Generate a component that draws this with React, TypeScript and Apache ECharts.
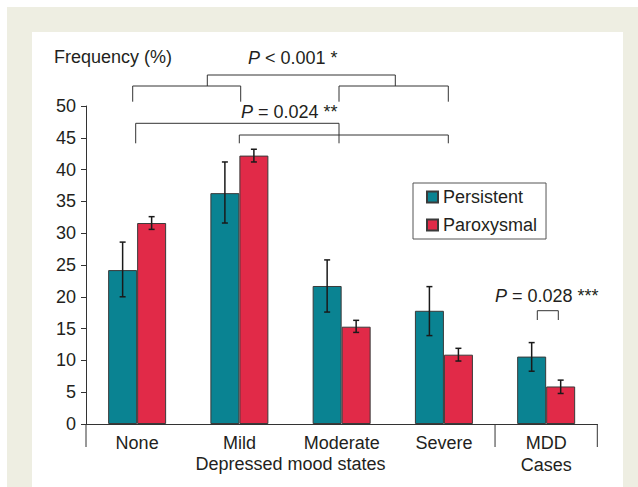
import React, { useEffect, useRef } from 'react';
import * as echarts from 'echarts';

const categories = ['None', 'Mild', 'Moderate', 'Severe', 'MDD\nCases'];
const seriesNames = ['Persistent', 'Paroxysmal'];
const persistent = [24.2, 36.3, 21.7, 17.8, 10.6];
const persistentLow = [20.0, 31.6, 17.6, 13.9, 8.3];
const persistentHigh = [28.6, 41.2, 25.8, 21.6, 12.8];
const paroxysmal = [31.6, 42.2, 15.3, 10.9, 5.9];
const paroxysmalLow = [30.6, 41.2, 14.4, 9.9, 4.8];
const paroxysmalHigh = [32.6, 43.2, 16.3, 11.9, 6.9];
const yTicks = { min: 0, max: 50, interval: 5 };

const FONT = 'Liberation Sans, Arial, Helvetica, sans-serif';
const TXT = '#231f20';
const LINE = '#333333';
const TEAL = '#0a8392';
const RED = '#e12a48';

function errorSeries(low: number[], high: number[], offset: number) {
  return {
    type: 'custom',
    silent: true,
    z: 10,
    encode: { x: 0, y: [1, 2] },
    data: categories.map((_, i) => [i, low[i], high[i]]),
    renderItem: (params: any, api: any) => {
      const i = api.value(0);
      const lo = api.coord([i, api.value(1)]);
      const hi = api.coord([i, api.value(2)]);
      const x = lo[0] + offset;
      const st = { stroke: '#1a1a1a', lineWidth: 1.5 };
      return {
        type: 'group',
        children: [
          { type: 'line', shape: { x1: x, y1: lo[1], x2: x, y2: hi[1] }, style: st },
          { type: 'line', shape: { x1: x - 3, y1: hi[1], x2: x + 3, y2: hi[1] }, style: st },
          { type: 'line', shape: { x1: x - 3, y1: lo[1], x2: x + 3, y2: lo[1] }, style: st },
        ],
      };
    },
  };
}

export default function App() {
  const ref = useRef<HTMLDivElement>(null);
  useEffect(() => {
    const chart = echarts.init(ref.current!, null, { renderer: 'svg' });
    const option: any = {
      animation: false,
      textStyle: { fontFamily: FONT },
      grid: { left: 86, right: 40.7, top: 106, bottom: 63, containLabel: false },
      legend: {
        data: seriesNames,
        orient: 'vertical',
        left: 413,
        top: 183,
        itemWidth: 11,
        itemHeight: 11,
        itemGap: 10,
        padding: [5, 9, 5, 13],
        borderColor: '#555',
        borderWidth: 1,
        icon: 'rect',
        textStyle: { fontSize: 18, color: TXT, fontFamily: FONT },
      },
      xAxis: {
        type: 'category',
        data: categories,
        axisLine: { lineStyle: { color: LINE, width: 1 } },
        axisTick: { length: 5, lineStyle: { color: LINE } },
        axisLabel: { interval: 0, fontSize: 18, color: TXT, margin: 8, lineHeight: 22, fontFamily: FONT },
      },
      yAxis: {
        type: 'value',
        min: yTicks.min,
        max: yTicks.max,
        interval: yTicks.interval,
        splitLine: { show: false },
        axisLine: { show: true, lineStyle: { color: LINE, width: 1 } },
        axisTick: { show: true, length: 5, lineStyle: { color: LINE } },
        axisLabel: { fontSize: 18, color: TXT, margin: 10, fontFamily: FONT },
      },
      series: [
        {
          name: seriesNames[0],
          type: 'bar',
          data: persistent,
          barWidth: 29,
          barGap: '0%',
          itemStyle: { color: TEAL, borderColor: '#3a3a3a', borderWidth: 1 },
        },
        {
          name: seriesNames[1],
          type: 'bar',
          data: paroxysmal,
          barWidth: 29,
          barGap: '0%',
          itemStyle: { color: RED, borderColor: '#3a3a3a', borderWidth: 1 },
        },
        errorSeries(persistentLow, persistentHigh, -14.5),
        errorSeries(paroxysmalLow, paroxysmalHigh, 14.5),
      ],
    };
    chart.setOption(option);

    const cx = categories.map((_, i) => chart.convertToPixel({ xAxisIndex: 0 }, i) as number);
    const w = cx[1] - cx[0];
    const y0 = chart.convertToPixel({ yAxisIndex: 0 }, 0) as number;
    const bounds = [cx[0] - w / 2, (cx[3] + cx[4]) / 2, cx[4] + w / 2];
    const lineStyle = { stroke: LINE, lineWidth: 1, fill: 'none' };
    const bracket = (x1: number, x2: number, yTop: number, yBot1: number, yBot2: number) => ({
      type: 'polyline',
      shape: { points: [[x1, yBot1], [x1, yTop], [x2, yTop], [x2, yBot2]] },
      style: lineStyle,
    });
    const pText = (x: number, y: number, rest: string) => ({
      type: 'text',
      x,
      y,
      style: {
        text: '{i|P}{n|' + rest + '}',
        verticalAlign: 'middle',
        align: 'left',
        rich: {
          i: { fontSize: 18, fontStyle: 'italic', fill: TXT, fontFamily: FONT },
          n: { fontSize: 18, fill: TXT, fontFamily: FONT },
        },
      },
    });

    chart.setOption({
      graphic: [
        {
          type: 'text',
          x: 54,
          y: 57,
          style: { text: 'Frequency (%)', fontSize: 18, fill: TXT, fontFamily: FONT, verticalAlign: 'middle' },
        },
        pText(248, 58, ' < 0.001 *'),
        pText(241, 112, ' = 0.024 **'),
        pText(495, 296, ' = 0.028 ***'),
        bracket(207.3, 395.3, 75, 86, 86),
        bracket(132.7, 240.7, 86, 101.7, 101.7),
        bracket(339, 448.3, 86, 101.7, 101.7),
        bracket(135.7, 339, 123.3, 143.3, 143.3),
        bracket(239.3, 448.3, 135, 143.3, 143.3),
        bracket(537.3, 558.3, 310.7, 320, 320),
        ...bounds.map((bx) => ({
          type: 'line',
          shape: { x1: bx, y1: y0, x2: bx, y2: 447 },
          style: { stroke: LINE, lineWidth: 1 },
        })),
        {
          type: 'text',
          x: (cx[1] + cx[2]) / 2,
          y: 464,
          style: {
            text: 'Depressed mood states',
            fontSize: 18,
            fill: TXT,
            fontFamily: FONT,
            align: 'center',
            verticalAlign: 'middle',
          },
        },
      ],
    });
    return () => chart.dispose();
  }, []);

  return (
    <div style={{ position: 'fixed', left: 0, top: 0, width: 638, height: 487, background: '#ffffff' }}>
      <div style={{ position: 'absolute', left: 7, top: 7, width: 631, height: 480, background: '#eeeee2' }} />
      <div style={{ position: 'absolute', left: 32, top: 32, width: 591, height: 455, background: '#ffffff' }} />
      <div ref={ref} style={{ position: 'absolute', left: 0, top: 0, width: 638, height: 487 }} />
    </div>
  );
}
